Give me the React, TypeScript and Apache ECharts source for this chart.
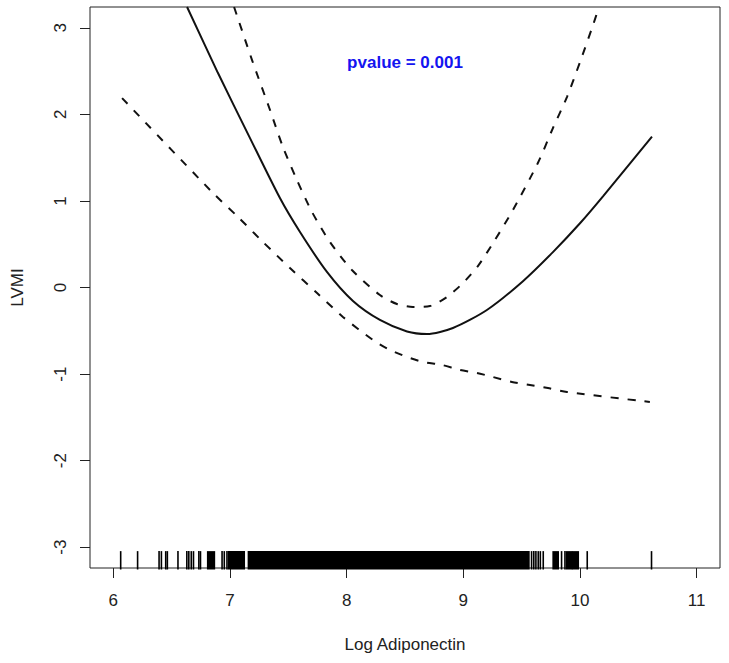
import React, { useEffect, useRef } from "react";
import * as echarts from "echarts";

// ---- axis definitions ----
const xTicks = [6, 7, 8, 9, 10, 11];
const yTicks = [-3, -2, -1, 0, 1, 2, 3];
const xLimits = [5.8, 11.2];
const yLimits = [-3.24, 3.24];

// ---- fitted curve (solid) ----
const fitCurve: number[][] = [
  [6.632, 3.24], [6.897, 2.477], [7.163, 1.749], [7.428, 1.033], [7.6, 0.641],
  [7.831, 0.18], [8.054, -0.156], [8.285, -0.375], [8.517, -0.508], [8.688, -0.537],
  [8.911, -0.468], [9.202, -0.26], [9.511, 0.073], [9.768, 0.409], [10.0, 0.742],
  [10.197, 1.053], [10.617, 1.744],
];

// ---- upper confidence limit (dashed) ----
const upperCI: number[][] = [
  [7.035, 3.24], [7.189, 2.627], [7.343, 2.05], [7.454, 1.622], [7.574, 1.241],
  [7.703, 0.872], [7.857, 0.525], [8.045, 0.202], [8.285, -0.087], [8.431, -0.191],
  [8.568, -0.225], [8.714, -0.214], [8.859, -0.11], [8.988, 0.04], [9.125, 0.248],
  [9.271, 0.549], [9.425, 0.895], [9.639, 1.438], [9.768, 1.842], [9.888, 2.2],
  [10.0, 2.604], [10.103, 2.997], [10.163, 3.24],
];

// ---- lower confidence limit (dashed) ----
const lowerCI: number[][] = [
  [6.075, 2.188], [6.846, 1.103], [7.069, 0.814], [7.283, 0.525], [7.514, 0.225],
  [7.746, -0.063], [7.968, -0.34], [8.225, -0.606], [8.354, -0.71], [8.517, -0.802],
  [8.654, -0.86], [8.817, -0.895], [8.971, -0.953], [9.117, -0.987], [9.254, -1.034],
  [9.416, -1.091], [9.571, -1.126], [9.725, -1.161], [9.888, -1.207], [10.599, -1.322],
];

// ---- rug: isolated observations and densely packed ranges ----
const rugSingles = [
  6.063, 6.208, 6.392, 6.412, 6.449, 6.463, 6.554, 6.63, 6.647, 6.668, 6.687,
  6.733, 6.747, 6.932, 6.951, 6.974, 9.585, 9.604, 9.622, 9.642, 9.66, 9.685,
  9.842, 9.871, 10.062, 10.613,
];
const rugBlocks: number[][] = [
  [6.809, 6.866], [6.988, 7.122], [7.158, 9.562], [9.77, 9.813], [9.885, 9.928], [9.937, 9.985],
];
const rugTop = -3.045;

// ---- annotation ----
const pLabel = "pvalue = 0.001";
const pLabelPos = [8.5, 2.6];

const FONT = "'Liberation Sans', Arial, Helvetica, sans-serif";
const INK = "#222";

export default function App() {
  const ref = useRef<HTMLDivElement>(null);

  useEffect(() => {
    if (!ref.current) return;
    const chart = echarts.init(ref.current, null, { renderer: "svg" });
    const yBottom = yLimits[0];

    const lineBase = {
      type: "line",
      showSymbol: false,
      symbol: "none",
      smooth: 0.25,
      clip: true,
      silent: true,
    };

    chart.setOption({
      animation: false,
      backgroundColor: "#ffffff",
      grid: {
        left: 90,
        right: 9,
        top: 7,
        bottom: 95,
        show: true,
        borderColor: INK,
        borderWidth: 1,
        backgroundColor: "transparent",
      },
      xAxis: {
        type: "value",
        min: xLimits[0],
        max: xLimits[1],
        name: "Log Adiponectin",
        nameLocation: "middle",
        nameGap: 68,
        nameTextStyle: { fontFamily: FONT, fontSize: 17, color: INK },
        axisLine: { show: false, onZero: false },
        axisTick: {
          show: true,
          length: 10,
          inside: false,
          customValues: xTicks,
          lineStyle: { color: INK, width: 1 },
        },
        axisLabel: {
          show: true,
          customValues: xTicks,
          margin: 24,
          fontFamily: FONT,
          fontSize: 17,
          color: INK,
        },
        splitLine: { show: false },
      },
      yAxis: {
        type: "value",
        min: yLimits[0],
        max: yLimits[1],
        name: "LVMI",
        nameLocation: "middle",
        nameGap: 64,
        nameRotate: 90,
        nameTextStyle: { fontFamily: FONT, fontSize: 17, color: INK },
        axisLine: { show: false, onZero: false },
        axisTick: {
          show: true,
          length: 10,
          inside: false,
          customValues: yTicks,
          lineStyle: { color: INK, width: 1 },
        },
        axisLabel: {
          show: true,
          customValues: yTicks,
          rotate: 90,
          margin: 21,
          fontFamily: FONT,
          fontSize: 17,
          color: INK,
        },
        splitLine: { show: false },
      },
      series: [
        {
          ...lineBase,
          name: "fit",
          data: fitCurve,
          lineStyle: { color: "#111", width: 2, type: "solid" },
        },
        {
          ...lineBase,
          name: "upper",
          data: upperCI,
          lineStyle: { color: "#111", width: 2, type: [8, 9] },
        },
        {
          ...lineBase,
          name: "lower",
          data: lowerCI,
          lineStyle: { color: "#111", width: 2, type: [8, 9] },
        },
        {
          type: "custom",
          name: "rug",
          clip: false,
          silent: true,
          encode: { x: 0, y: 1 },
          data: rugSingles.map((v) => [v, rugTop]),
          renderItem: (_params: any, api: any) => {
            const x = api.value(0);
            const p0 = api.coord([x, rugTop]);
            const p1 = api.coord([x, yBottom]);
            return {
              type: "line",
              shape: { x1: p0[0], y1: p0[1], x2: p1[0], y2: p1[1] + 1.5 },
              style: { stroke: "#000", lineWidth: 1.6 },
            };
          },
        },
        {
          type: "custom",
          name: "rugDense",
          clip: false,
          silent: true,
          encode: { x: [0, 1], y: 2 },
          data: rugBlocks.map((b) => [b[0], b[1], rugTop]),
          renderItem: (_params: any, api: any) => {
            const p0 = api.coord([api.value(0), rugTop]);
            const p1 = api.coord([api.value(1), yBottom]);
            return {
              type: "rect",
              shape: {
                x: p0[0] - 0.8,
                y: p0[1],
                width: p1[0] - p0[0] + 1.6,
                height: p1[1] - p0[1] + 1.5,
              },
              style: { fill: "#000" },
            };
          },
        },
        {
          type: "scatter",
          name: "pvalue",
          silent: true,
          symbolSize: 1,
          itemStyle: { color: "rgba(0,0,0,0)", opacity: 1 },
          data: [pLabelPos],
          label: {
            show: true,
            position: "inside",
            formatter: () => pLabel,
            fontFamily: FONT,
            fontSize: 17,
            fontWeight: "bold",
            color: "#1414f0",
          },
        },
      ],
    });

    return () => {
      chart.dispose();
    };
  }, []);

  return (
    <div
      ref={ref}
      style={{ position: "fixed", left: 0, top: 0, width: 729, height: 663, background: "#fff" }}
    />
  );
}
